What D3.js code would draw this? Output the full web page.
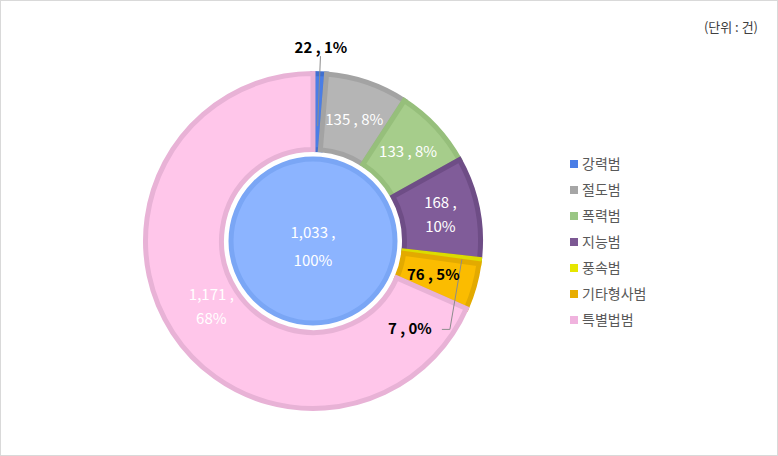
<html>
<head>
<script src="https://cdn.jsdelivr.net/npm/d3@7"></script>
<style>body{margin:0;} text{font-family:"Noto Sans CJK KR","Noto Sans",sans-serif;}</style>
</head>
<body>
<svg width="778" height="456"></svg>
<script>
var categories = ['강력범', '절도범', '폭력범', '지능범', '풍속범', '기타형사범', '특별법범'];
var values = [22, 135, 133, 168, 7, 76, 1171];
var pcts = ['1%', '8%', '8%', '10%', '0%', '5%', '68%'];
var fills = ['#4a7ee6', '#b5b5b5', '#a6cd8b', '#805c99', '#e8e800', '#fbbc00', '#ffc6ea'];
var strokes = ['#3f6fd0', '#a3a3a3', '#96bf7b', '#6e4d86', '#dcdc00', '#e3aa00', '#e8b2d6'];
var legendColors = ['#4a7ee6', '#a6a6a6', '#9ac684', '#7c5893', '#e6e600', '#e8ad00', '#f0b3de'];
var total = 1033;

var svg = d3.select('svg');
svg.append('rect').attr('x', 0.5).attr('y', 0.5).attr('width', 777).attr('height', 455)
	.attr('fill', 'white').attr('stroke', '#d9d9d9');

var cx = 313, cy = 241, R = 170, r0 = 89;
var g = svg.append('g').attr('transform', 'translate(' + cx + ',' + cy + ')');

var pie = d3.pie().sort(null)(values);
var arc = d3.arc().innerRadius(r0 + 2.5).outerRadius(R - 2.5);

g.selectAll('path.s').data(pie).enter().append('path')
	.attr('d', arc)
	.attr('fill', function(d, i) { return fills[i]; })
	.attr('stroke', function(d, i) { return strokes[i]; })
	.attr('stroke-width', 5);

g.append('circle').attr('r', 82).attr('fill', '#8cb4ff').attr('stroke', '#7aa6f5').attr('stroke-width', 5);

function polar(a, rr) { return [Math.sin(a) * rr, -Math.cos(a) * rr]; }
function mid(d) { return (d.startAngle + d.endAngle) / 2; }

// label settings: radius, color, two lines?
var lab = [
	{ r: 195, c: '#000', two: false, line: true },
	{ r: 128, c: '#fff', two: false },
	{ r: 130, c: '#fff', two: false },
	{ r: 130, c: '#fff', two: true },
	{ r: 0, c: '#000', two: false, line: true },
	{ r: 125, c: '#000', two: false },
	{ r: 125, c: '#fff', two: true }
];

pie.forEach(function(d, i) {
	var L = lab[i];
	var txt = d3.format(',')(values[i]) + ' , ' + pcts[i];
	var p;
	if (i === 4) {
		// 풍속범: label placed below with leader line
		var s = polar(mid(d), 150);
		p = [s[0] - 52, s[1] + 70];
		g.append('polyline').attr('fill', 'none').attr('stroke', '#8c8c8c')
			.attr('points', [s, [s[0] - 12, s[1] + 70], [s[0] - 20, s[1] + 70]].map(function(q) { return q.join(','); }).join(' '));
	} else {
		p = polar(mid(d), L.r);
	}
	if (i === 0) {
		var a1 = polar(mid(d), 115), a2 = polar(mid(d), 185);
		g.append('line').attr('x1', a1[0]).attr('y1', a1[1]).attr('x2', a2[0]).attr('y2', a2[1]).attr('stroke', '#8c8c8c');
		p = [p[0], p[1] + 2];
	}
	if (i === 6) p = [p[0] + 3, p[1] - 2];
	var t = g.append('text').attr('text-anchor', 'middle').attr('fill', L.c).attr('font-size', 15);
	if (i === 0 || i === 4 || i === 5) t.attr('font-weight', 'bold').attr('font-size', 15);
	if (L.two) {
		t.append('tspan').attr('x', p[0]).attr('y', p[1] - 7).text(d3.format(',')(values[i]) + ' ,');
		t.append('tspan').attr('x', p[0]).attr('y', p[1] + 17).text(pcts[i]);
	} else {
		t.attr('x', p[0]).attr('y', p[1] + 5).text(txt);
	}
});

var ct = g.append('text').attr('text-anchor', 'middle').attr('fill', '#fff').attr('font-size', 15);
ct.append('tspan').attr('x', 0).attr('y', -3).text(d3.format(',')(total) + ' ,');
ct.append('tspan').attr('x', 0).attr('y', 25).text('100%');

var ly = d3.scaleBand().domain(categories).range([151, 333]);
var lg = svg.append('g').selectAll('g').data(categories).enter().append('g')
	.attr('transform', function(d) { return 'translate(570,' + (ly(d) + ly.bandwidth() / 2) + ')'; });
lg.append('rect').attr('x', 0).attr('y', -4).attr('width', 8).attr('height', 8)
	.attr('fill', function(d, i) { return legendColors[i]; });
lg.append('text').attr('x', 12).attr('y', 5).attr('font-size', 14).attr('fill', '#595959').text(function(d) { return d; });

svg.append('text').attr('x', 758).attr('y', 32).attr('text-anchor', 'end').attr('font-size', 13)
	.attr('fill', '#404040').text('(단위 : 건)');
</script>
</body>
</html>
